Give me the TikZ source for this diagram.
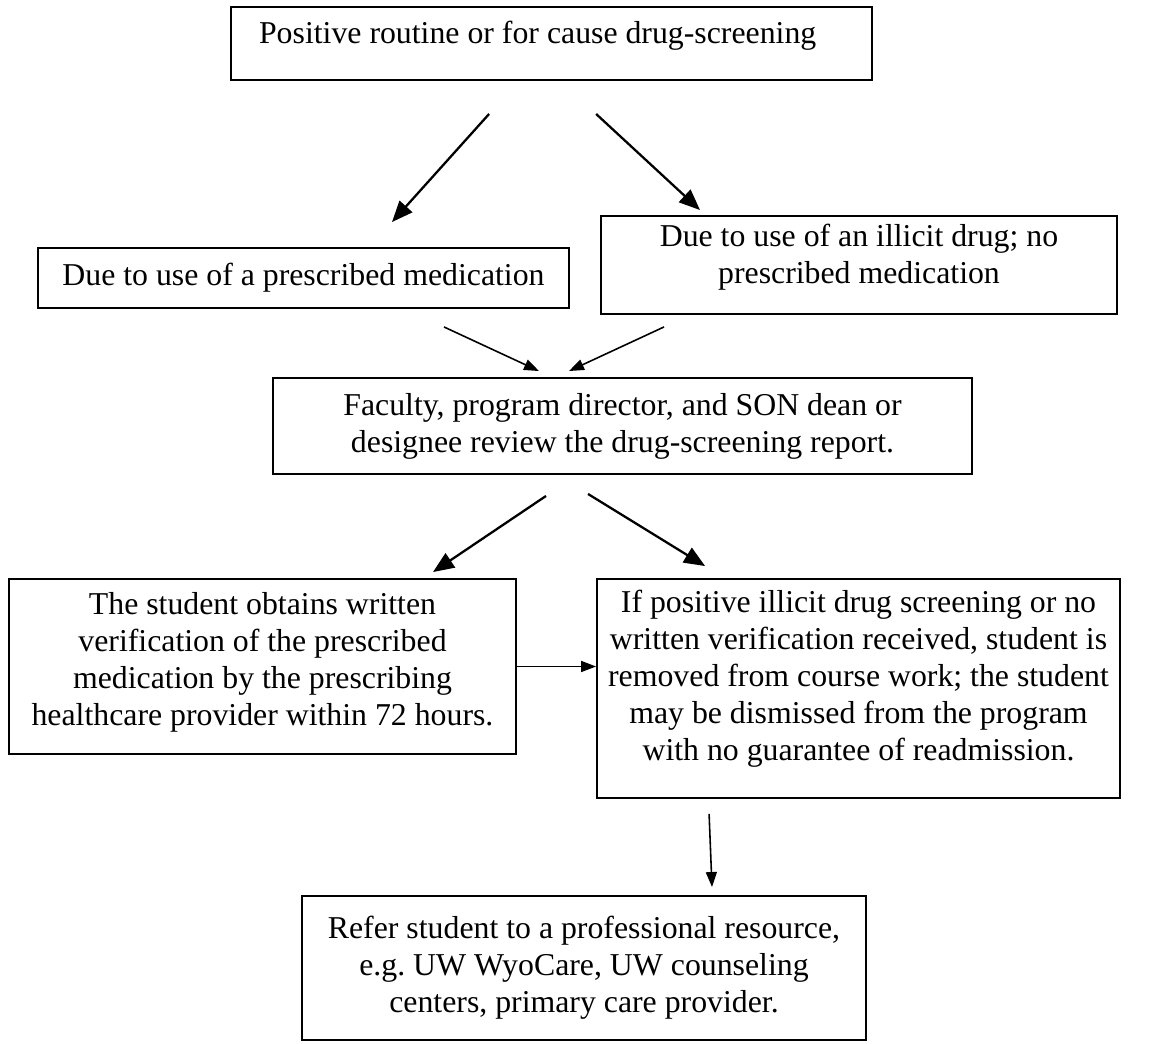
\documentclass[tikz,border=0pt]{standalone}
\usepackage{fontspec}
\setmainfont{Liberation Serif}
\usetikzlibrary{arrows.meta}
\frenchspacing

\begin{document}
\begin{tikzpicture}[x=0.02cm, y=-0.02cm,
    box/.style = {shape=rectangle, draw, line width=1.1pt, inner sep=0pt,
      align=flush center, font=\fontsize{18.1pt}{21.05pt}\selectfont},
    lift/.style = {execute at end node={\endgraf\kern#1}},
    arr/.style = {line width=1.3pt, -{Triangle[length=0.42cm, width=0.34cm]}},
    thinarr/.style = {line width=0.9pt, -{Triangle[length=0.3cm, width=0.22cm]}}]
  \useasboundingbox (0,0) rectangle (1150,1044);
  \node[box, minimum width=12.82cm, minimum height=1.46cm, text width=11.7cm, align=flush left, lift=0.3cm] (screen) at (551.5,43.5)
    {Positive routine or for cause drug-screening};
  \node[box, minimum width=10.62cm, minimum height=1.2cm, text width=10.4cm] (rx) at (303.5,278)
    {Due to use of a prescribed medication};
  \node[box, minimum width=10.32cm, minimum height=1.96cm, text width=10cm, lift=0.3cm] (illicit) at (859,265)
    {Due to use of an illicit drug; no\\ prescribed medication};
  \node[box, minimum width=13.98cm, minimum height=1.92cm, text width=13.6cm] (review) at (622.5,426)
    {Faculty, program director, and SON dean or\\ designee review the drug-screening report.};
  \node[box, minimum width=10.14cm, minimum height=3.5cm, text width=10.1cm, lift=0.16cm] (verify) at (262.5,666.5)
    {The student obtains written\\ verification of the prescribed\\ medication by the prescribing\\ healthcare provider within 72 hours.};
  \node[box, minimum width=10.46cm, minimum height=4.38cm, text width=10.4cm, lift=0.4cm] (removed) at (858.5,688.5)
    {If positive illicit drug screening or no\\ written verification received, student is\\ removed from course work; the student\\ may be dismissed from the program\\ with no guarantee of readmission.};
  \node[box, minimum width=11.28cm, minimum height=2.88cm, text width=11cm] (refer) at (584,968)
    {Refer student to a professional resource,\\ e.g. UW WyoCare, UW counseling\\ centers, primary care provider.};

  \draw[arr] ([shift={(259,33)}]screen.south west) -- ([shift={(88.5,-25)}]rx.north);
  \draw[arr] ([shift={(366,33)}]screen.south west) -- ([shift={(-159,-5)}]illicit.north);
  \draw[thinarr] ([shift={(140.5,18)}]rx.south) -- ([shift={(-83.5,-6)}]review.north);
  \draw[thinarr] ([shift={(-195,12)}]illicit.south) -- ([shift={(-53.5,-6)}]review.north);
  \draw[arr] ([shift={(-76.5,21)}]review.south) -- ([shift={(170.5,-6)}]verify.north);
  \draw[arr] ([shift={(-34.5,19)}]review.south) -- ([shift={(109,-12)}]removed.north west);
  \draw[thinarr] (verify.east) -- (verify.east -| removed.west);
  \draw[thinarr] ([shift={(113,15)}]removed.south west) -- ([shift={(128,-8)}]refer.north);
\end{tikzpicture}
\end{document}
